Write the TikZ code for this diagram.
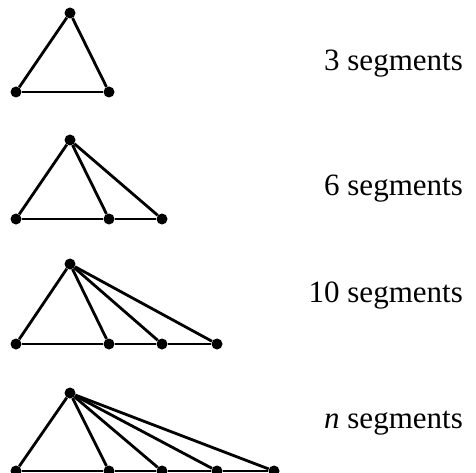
\documentclass[tikz,border=0pt]{standalone}
\usepackage{fontspec}
\setmainfont{Liberation Serif}
\usepackage{tikz}

\begin{document}
\begin{tikzpicture}[
				x=1pt, y=-1pt,
				dot/.style={
					circle,
					fill=black,
					inner sep=0pt,
					minimum size=11pt
				},
				segment/.style={
					line width=2.8pt
				},
				label style/.style={
					anchor=base east,
					inner sep=0pt,
					font=\fontsize{31}{36}\selectfont
				}
				]
				
				\useasboundingbox (0,0) rectangle (476,473);
				
				% first triangle
				\node[dot] (top1) at (70,13) {};
				\node[dot] (b1a) at (16,92) {};
				\node[dot] (b1b) at (109,92) {};
				
				\draw[segment] (top1) -- (b1a);
				\draw[segment] (top1) -- (b1b);
				\draw[segment] (b1a) -- (b1b);
				
				\node[label style] (txt1) at (463,71) {3 segments};
				
				% second triangle
				\node[dot] (top2) at (70,140) {};
				\node[dot] (b2a) at (16,219) {};
				\node[dot] (b2b) at (109,219) {};
				\node[dot] (b2c) at (162,219) {};
				
				\draw[segment] (top2) -- (b2a);
				\draw[segment] (top2) -- (b2b);
				\draw[segment] (top2) -- (b2c);
				\draw[segment] (b2a) -- (b2b) -- (b2c);
				
				\node[label style] (txt2) at (463,196) {6 segments};
				
				% third triangle
				\node[dot] (top3) at (70,264) {};
				\node[dot] (b3a) at (16,344) {};
				\node[dot] (b3b) at (109,344) {};
				\node[dot] (b3c) at (162,344) {};
				\node[dot] (b3d) at (217,344) {};
				
				\draw[segment] (top3) -- (b3a);
				\draw[segment] (top3) -- (b3b);
				\draw[segment] (top3) -- (b3c);
				\draw[segment] (top3) -- (b3d);
				\draw[segment] (b3a) -- (b3b) -- (b3c) -- (b3d);
				
				\node[label style] (txt3) at (463,302) {10 segments};
				
				% fourth triangle
				\node[dot] (top4) at (70,393) {};
				\node[dot] (b4a) at (16,471) {};
				\node[dot] (b4b) at (109,471) {};
				\node[dot] (b4c) at (162,471) {};
				\node[dot] (b4d) at (217,471) {};
				\node[dot] (b4e) at (274,471) {};
				
				\draw[segment] (top4) -- (b4a);
				\draw[segment] (top4) -- (b4b);
				\draw[segment] (top4) -- (b4c);
				\draw[segment] (top4) -- (b4d);
				\draw[segment] (top4) -- (b4e);
				\draw[segment] (b4a) -- (b4b) -- (b4c) -- (b4d) -- (b4e);
				
				\node[label style] (txt4) at (463,428) {\textit{n} segments};
				
\end{tikzpicture}
\end{document}
